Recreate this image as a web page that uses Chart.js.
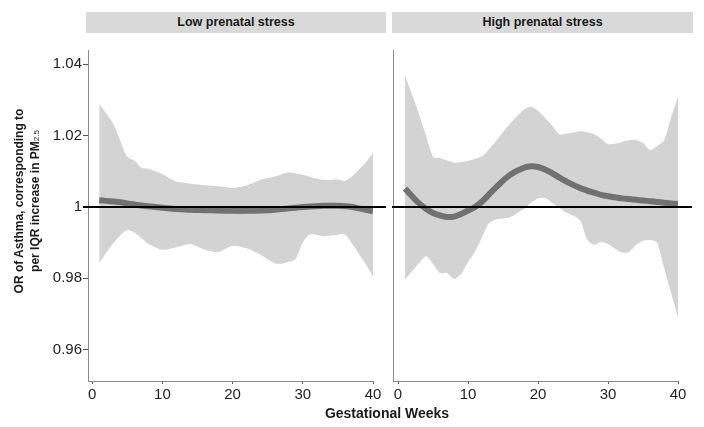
<!DOCTYPE html>
<html>
<head>
<meta charset="utf-8">
<script src="https://cdn.jsdelivr.net/npm/chart.js@4/dist/chart.umd.min.js"></script>
<style>
  body { margin: 0; background: #fff; font-family: 'Liberation Sans', Arial, sans-serif; }
  #wrap { position: relative; width: 704px; height: 427px; overflow: hidden; }
  canvas { position: absolute; top: 0; }
  .strip { position: absolute; top: 12px; height: 21px; line-height: 21px; background: #d9d9d9;
           text-align: center; font-weight: bold; font-size: 12.5px; color: #1a1a1a; }
  #ytitle { position: absolute; left: -83px; top: 185px; width: 220px; height: 32px; line-height: 16px;
            transform: rotate(-90deg); text-align: center; font-weight: bold; font-size: 12px; color: #1a1a1a; }
  #xtitle { position: absolute; left: 287px; top: 405px; width: 200px; text-align: center;
            font-weight: bold; font-size: 14px; color: #1a1a1a; }
</style>
</head>
<body>
<div id="wrap">
  <canvas id="chart-low" width="386" height="427" style="left:0"></canvas>
  <canvas id="chart-high" width="318" height="427" style="left:386px"></canvas>
  <div class="strip" style="left:86px;width:300px">Low prenatal stress</div>
  <div class="strip" style="left:392px;width:301px">High prenatal stress</div>
  <div id="ytitle">OR of Asthma, corresponding to<br>per IQR increase in PM<span style="font-size:8px;font-weight:normal">2.5</span></div>
  <div id="xtitle">Gestational Weeks</div>
</div>
<script>
// TICKS
const xTicks = [0, 10, 20, 30, 40];
const yTicks = [0.96, 0.98, 1, 1.02, 1.04];
const yTickLabels = ['0.96', '0.98', '1', '1.02', '1.04'];

// PANEL: LOW PRENATAL STRESS
const lowWeeks = [1, 2, 3, 4, 5, 6, 7, 8, 10, 12, 14, 16, 18, 20, 22, 24, 26, 27, 28, 29, 30, 31, 33, 35, 36, 37, 38, 39, 40];
const lowFit = [1.0019, 1.0017, 1.0015, 1.0013, 1.0010, 1.0007, 1.0004, 1.0002, 0.9998, 0.9994, 0.9992, 0.9991, 0.9990, 0.9989, 0.9989,
  0.9990, 0.9992, 0.9994, 0.9996, 0.9998, 1.0000, 1.0001, 1.0003, 1.0003, 1.0002, 1.0000, 0.9996, 0.9992, 0.9988];
const lowUpper = [1.0288, 1.0262, 1.0233, 1.0185, 1.0140, 1.0130, 1.0110, 1.0107, 1.0092, 1.0071, 1.0065, 1.0061, 1.0058, 1.0053, 1.0060,
  1.0076, 1.0085, 1.0092, 1.0097, 1.0094, 1.0090, 1.0084, 1.0076, 1.0077, 1.0073, 1.0085, 1.0105, 1.0125, 1.0152];
const lowLower = [0.9843, 0.9872, 0.9898, 0.9920, 0.9935, 0.9928, 0.9913, 0.9897, 0.9880, 0.9887, 0.9896, 0.9880, 0.9874, 0.9891, 0.9884,
  0.9866, 0.9842, 0.9841, 0.9846, 0.9855, 0.9900, 0.9923, 0.9918, 0.9922, 0.9923, 0.9898, 0.9868, 0.9838, 0.9806];

// PANEL: HIGH PRENATAL STRESS
const highWeeks = [1, 2, 3, 4, 5, 6, 7, 8, 9, 10, 11, 12, 13, 14, 16, 18, 19, 20, 21, 22, 23, 24, 26, 27, 28, 29, 30, 31, 32, 33, 34, 35, 36, 37, 38, 39, 40];
const highFit = [1.0052, 1.0030, 1.0010, 0.9995, 0.9983, 0.9976, 0.9972, 0.9973, 0.9980, 0.9990, 1.0000, 1.0015, 1.0035, 1.0055, 1.0090,
  1.0110, 1.0114, 1.0112, 1.0105, 1.0095, 1.0083, 1.0072, 1.0053, 1.0046, 1.0040, 1.0034, 1.0030, 1.0027, 1.0024, 1.0022, 1.0020,
  1.0018, 1.0016, 1.0014, 1.0012, 1.0010, 1.0008];
const highUpper = [1.0369, 1.0315, 1.0260, 1.0200, 1.0140, 1.0137, 1.0130, 1.0124, 1.0126, 1.0129, 1.0135, 1.0142, 1.0162, 1.0185, 1.0233,
  1.0273, 1.0281, 1.0270, 1.0250, 1.0228, 1.0204, 1.0205, 1.0212, 1.0210, 1.0204, 1.0192, 1.0176, 1.0177, 1.0182, 1.0187, 1.0188,
  1.0180, 1.0159, 1.0170, 1.0186, 1.0250, 1.0309];
const highLower = [0.9796, 0.9820, 0.9842, 0.9862, 0.9840, 0.9815, 0.9815, 0.9798, 0.9812, 0.9845, 0.9875, 0.9915, 0.9955, 0.9965, 0.9971,
  0.9995, 1.0012, 1.0024, 1.0025, 1.0012, 0.9998, 0.9985, 0.9963, 0.9910, 0.9894, 0.9902, 0.9896, 0.9883, 0.9872, 0.9874, 0.9893,
  0.9905, 0.9907, 0.9900, 0.9830, 0.9760, 0.9690];

const FONT = "'Liberation Sans', Arial, sans-serif";

// LINEA DE REFERENCIA EN OR = 1
const refLine = {
  id: 'refLine',
  afterDatasetsDraw(chart, args, opts) {
    const { ctx, chartArea, scales } = chart;
    const y = scales.y.getPixelForValue(1);
    ctx.save();
    ctx.strokeStyle = '#000';
    ctx.lineWidth = 2;
    ctx.beginPath();
    ctx.moveTo(chartArea.left - opts.extLeft, y);
    ctx.lineTo(chartArea.right + opts.extRight, y);
    ctx.stroke();
    ctx.restore();
  }
};

function pts(weeks, vals) {
  return weeks.map((w, i) => ({ x: w, y: vals[i] }));
}

function makePanel(id, weeks, fit, upper, lower, cfg) {
  return new Chart(document.getElementById(id), {
    type: 'line',
    data: {
      datasets: [
        { data: pts(weeks, fit), borderColor: '#717171', borderWidth: 6, tension: 0.4, pointRadius: 0, fill: false, borderCapStyle: 'butt' },
        { data: pts(weeks, upper), borderWidth: 0, borderColor: 'rgba(0,0,0,0)', backgroundColor: '#d3d3d3', tension: 0.25, pointRadius: 0, fill: '+1' },
        { data: pts(weeks, lower), borderWidth: 0, borderColor: 'rgba(0,0,0,0)', tension: 0.25, pointRadius: 0, fill: false }
      ]
    },
    options: {
      responsive: false,
      animation: false,
      devicePixelRatio: 1,
      layout: { padding: { top: 50, right: cfg.padRight, bottom: 0, left: 0 } },
      plugins: {
        legend: { display: false },
        tooltip: { enabled: false },
        refLine: { extLeft: cfg.extLeft, extRight: cfg.extRight }
      },
      scales: {
        x: {
          type: 'linear',
          min: cfg.xMin,
          max: 40,
          afterBuildTicks: s => { s.ticks = xTicks.map(v => ({ value: v })); },
          afterFit: s => { s.height = 46; },
          ticks: { color: '#1f1f1f', font: { family: FONT, size: 15 }, padding: 2, maxRotation: 0 },
          grid: { display: true, drawOnChartArea: false, tickLength: 3, color: '#555' },
          border: { display: true, color: '#8a8a8a', width: 1 }
        },
        y: {
          min: 0.9512,
          max: 1.0440,
          afterBuildTicks: s => { s.ticks = yTicks.map(v => ({ value: v })); },
          afterFit: s => { s.width = cfg.yWidth; },
          ticks: {
            display: cfg.showY,
            color: '#1f1f1f',
            font: { family: FONT, size: 15 },
            padding: 1,
            callback: (v) => yTickLabels[yTicks.indexOf(v)]
          },
          grid: { display: cfg.showY, drawOnChartArea: false, tickLength: 5, color: '#555' },
          border: { display: true, color: '#8a8a8a', width: 1 }
        }
      }
    },
    plugins: [refLine]
  });
}

makePanel('chart-low', lowWeeks, lowFit, lowUpper, lowLower,
  { xMin: -0.6, padRight: 13, yWidth: 88, showY: true, extLeft: 5, extRight: 13 });
makePanel('chart-high', highWeeks, highFit, highUpper, highLower,
  { xMin: -0.72, padRight: 26, yWidth: 7, showY: false, extLeft: 1, extRight: 14 });
</script>
</body>
</html>
